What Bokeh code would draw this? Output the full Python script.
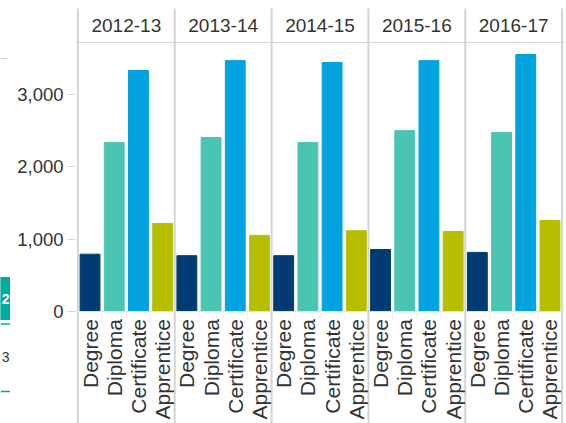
import math
from bokeh.plotting import figure
from bokeh.layouts import row
from bokeh.models import FactorRange, Range1d, FixedTicker, NumeralTickFormatter, ColumnDataSource, Span
from bokeh.core.properties import value
from bokeh.embed import file_html
from bokeh.resources import INLINE

# ---- data ----
years = ["2012-13", "2013-14", "2014-15", "2015-16", "2016-17"]
categories = ["Degree", "Diploma", "Certificate", "Apprentice"]
degree = [790, 770, 770, 855, 815]
diploma = [2330, 2400, 2330, 2495, 2470]
certificate = [3325, 3460, 3435, 3460, 3545]
apprentice = [1215, 1050, 1115, 1105, 1255]
colors = ["#003b71", "#4ac5b2", "#00a2e0", "#b6be00"]
y_ticks = [0, 1000, 2000, 3000]

series = [degree, diploma, certificate, apprentice]

FONT = "Liberation Sans"
TEXT = "#333333"
LINE = "#d4d4d4"
TEAL = "#00ab9f"

# ---- fragments of neighbouring dashboard items (left strip) ----
s = figure(width=10, height=423, x_range=Range1d(0, 10), y_range=Range1d(423, 0),
           output_backend="svg", toolbar_location=None, x_axis_location=None,
           y_axis_location=None, min_border=0)
s.outline_line_color = None
s.xgrid.visible = False
s.ygrid.visible = False
s.segment(x0=[0], x1=[7], y0=[58], y1=[58], line_color="#d0d0d0", line_width=1)
s.quad(left=[0], right=[11], top=[277], bottom=[319], color=TEAL)
s.text(x=[9], y=[298], text=["2"], text_align="right", text_baseline="middle",
       text_font=value(FONT), text_font_size="14px", text_color="white", text_font_style="bold")
s.segment(x0=[0], x1=[10], y0=[323.5], y1=[323.5], line_color=TEAL, line_width=1.5)
s.text(x=[9], y=[356], text=["3"], text_align="right", text_baseline="middle",
       text_font=value(FONT), text_font_size="14px", text_color=TEXT)
s.segment(x0=[0], x1=[10], y0=[391], y1=[391], line_color=TEAL, line_width=1.5)

# ---- main chart ----
xs, tops, cols = [], [], []
for yi, yr in enumerate(years):
    for ci, cat in enumerate(categories):
        xs.append((yr, cat))
        tops.append(series[ci][yi])
        cols.append(colors[ci])
src = ColumnDataSource(dict(x=xs, top=tops, color=cols, label=[c for (_, c) in xs]))

x_range = FactorRange(factors=xs, factor_padding=0, group_padding=0,
                      range_padding=0.1, range_padding_units="absolute")
y_range = Range1d(-1545, 4290)

p = figure(width=556, height=423, x_range=x_range, y_range=y_range,
           output_backend="svg", toolbar_location=None, x_axis_location=None,
           min_border_left=65, min_border_right=2, min_border_top=0, min_border_bottom=0)
p.outline_line_color = None
p.xgrid.visible = False
p.ygrid.visible = False
p.background_fill_color = "white"
p.border_fill_color = "white"

ax = p.yaxis[0]
ax.ticker = FixedTicker(ticks=y_ticks)
ax.formatter = NumeralTickFormatter(format="0,0")
ax.axis_line_color = None
ax.major_tick_in = 0
ax.major_tick_out = 8
ax.major_tick_line_color = "#d9d9d9"
ax.minor_tick_line_color = None
ax.major_label_standoff = 4
ax.major_label_text_font = FONT
ax.major_label_text_font_size = "18.5px"
ax.major_label_text_color = TEXT

p.vbar(x="x", top="top", bottom=0, width=0.82, color="color", source=src)

p.add_layout(Span(location=0, dimension="width", line_color="#e3e3e3", line_width=1))
p.add_layout(Span(location=3710, dimension="width", line_color=LINE, line_width=1))

bx = [(yr, categories[0], -0.5) for yr in years] + [(years[-1], categories[-1], 0.5)]
p.segment(x0=bx, x1=bx, y0=y_range.start, y1=4179, line_color=LINE, line_width=2)

sx = [(yr, cat, -0.5) for yr in years for cat in categories[1:]]
p.segment(x0=sx, x1=sx, y0=0, y1=-97, line_color="#ececec", line_width=1)

p.text(x=years, y=3945, text=years, text_align="center", text_baseline="middle",
       text_font=value(FONT), text_font_size="19px", text_color=TEXT)

p.text(x="x", y=-105, text="label", source=src, angle=math.pi / 2,
       text_align="right", text_baseline="middle",
       text_font=value(FONT), text_font_size="21px", text_color=TEXT)

layout = row(s, p, spacing=0)
open("out.html", "w").write(file_html(layout, INLINE))
